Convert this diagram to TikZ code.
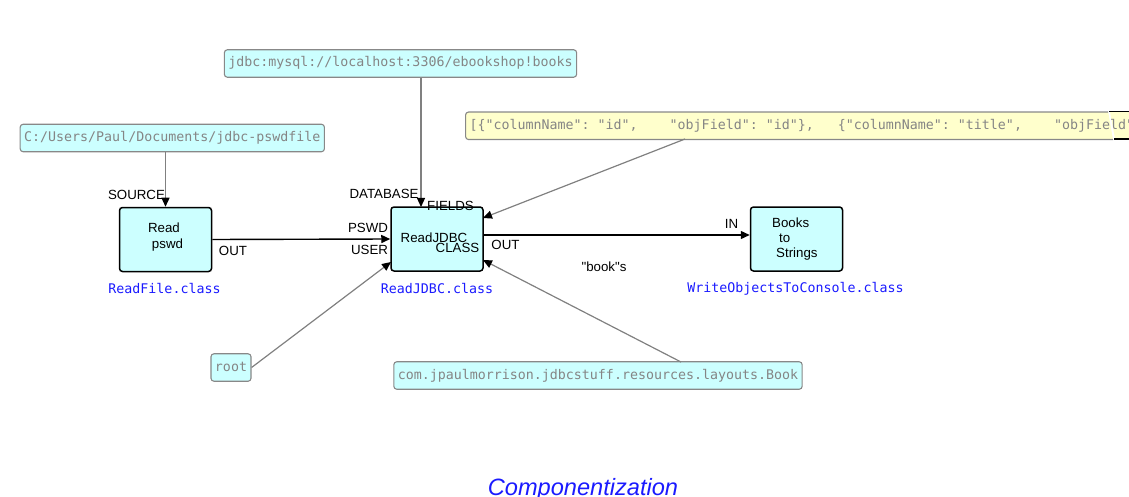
\documentclass[tikz,border=0pt]{standalone}
\usepackage{fontspec}
\setmainfont{Liberation Sans}[Ligatures=TeXOff]
\newfontfamily\monofont{DejaVu Sans Mono}
\usetikzlibrary{arrows.meta}

\definecolor{procfill}{HTML}{CCFFFF}
\definecolor{iipfill}{HTML}{CCFFFF}
\definecolor{fieldfill}{HTML}{FFFFCC}
\definecolor{iipborder}{HTML}{888888}
\definecolor{wire}{HTML}{808080}
\definecolor{monogray}{HTML}{858585}
\definecolor{classblue}{HTML}{1A1AFF}

\tikzset{
  proc/.style={draw=black, line width=1.5pt, fill=procfill, rounded corners=3pt,
    minimum width=92pt, minimum height=64pt, inner sep=0pt},
  iip/.style={draw=iipborder, line width=1.1pt, fill=iipfill, rounded corners=3pt,
    inner xsep=4pt, inner ysep=0pt, minimum height=27.5pt, text height=10pt,
    text depth=3pt, font=\monofont\fontsize{13.3}{16}\selectfont, text=monogray},
  lbl/.style={font=\fontsize{13.3}{16}\selectfont, inner sep=0pt, anchor=base},
  cls/.style={font=\monofont\fontsize{13.3}{16}\selectfont, text=classblue,
    inner sep=0pt, anchor=base},
  wireline/.style={draw=wire, line width=1.2pt,
    -{Triangle[length=9pt,width=8pt,color=black]}},
  flow/.style={draw=black, line width=1.4pt, -{Triangle[length=9pt,width=8pt]}},
}

\begin{document}
\begin{tikzpicture}[x=1pt,y=-1pt]
\useasboundingbox (0,0) rectangle (1129,497);
\clip (0,0) rectangle (1129,497);

% process blocks
\node[proc] (rp) at (165.5,239.5) {};
\node[proc] (rj) at (437,239) {};
\node[proc] (bs) at (796.5,239) {};

% initial information packets
\node[iip] (jdbc) at (400.5,63.5) {jdbc:mysql://localhost:3306/ebookshop!books};
\node[iip] (cpath) at (172.3,138) {C:/Users/Paul/Documents/jdbc-pswdfile};
\node[iip] (root) at (231,367.5) {root};
\node[iip] (com) at (598,375.5) {com.jpaulmorrison.jdbcstuff.resources.layouts.Book};

% field list packet, running off the right edge
\begin{scope}
  \clip (460,100) -- (1106,100) -- (1114,145) -- (460,145) -- cycle;
  \node[iip, fill=fieldfill, anchor=north west, minimum width=700pt] (fields) at (465,111.5) {};
\end{scope}
\fill[fieldfill] (1110,112) -- (1129,112) -- (1129,138.5) -- (1115,138.5) -- cycle;
\draw[black, line width=1.2pt] (1109,111.5) -- (1129,111.5);
\draw[black, line width=1.2pt] (1114,139) -- (1129,139);
\node[iip, draw=none, fill=none, anchor=west] (fieldstext) at (fields.west)
  {[\{"columnName":\ "id",\ \ \ \ "objField":\ "id"\},\ \ \ \{"columnName":\ "title",\ \ \ \ "objField":\ "title"\}]};

% port positions on the blocks
\coordinate (rjdb) at (421,207);
\coordinate (rjfields) at (483,218);
\coordinate (rjuser) at (391,262);
\coordinate (rjclass) at (483,260);
\coordinate (rjout) at (483,235);
\coordinate (fieldsout) at (685,139);
\coordinate (comout) at (681,362);

% connections
\draw[wireline] (rp.north |- cpath.south) -- (rp.north);
\draw[wireline] (jdbc.south -| rjdb) -- (rjdb);
\draw[wireline] (fieldsout) -- (rjfields);
\draw[wireline] (root.east) -- (rjuser);
\draw[wireline] (comout) -- (rjclass);
\draw[flow] (rp.east) -- (rj.west);
\draw[flow] (rjout) -- (bs.west |- rjout);

% block texts
\node[lbl] (trd) at (164,233) {Read};
\node[lbl] (tpw) at (167.5,248) {pswd};
\node[lbl] (trj) at (434,242) {ReadJDBC};
\node[lbl, anchor=base west] (tb1) at (772,227) {Books};
\node[lbl, anchor=base west] (tb2) at (779,242) {to};
\node[lbl, anchor=base west] (tb3) at (776,257) {Strings};

% port labels
\node[lbl] (lsource) at (136.5,200) {SOURCE};
\node[lbl] (lout1) at (233,255) {OUT};
\node[lbl] (ldb) at (384,199) {DATABASE};
\node[lbl] (lfields) at (450.5,211) {FIELDS};
\node[lbl] (lpswd) at (368,232) {PSWD};
\node[lbl] (luser) at (369.5,254) {USER};
\node[lbl] (lclass) at (457.5,252) {CLASS};
\node[lbl] (lout2) at (505.5,249) {OUT};
\node[lbl] (lin) at (731.5,228) {IN};
\node[lbl] (lbook) at (604,271.5) {"book"s};

% component class names
\node[cls] (crp) at (164.5,293) {ReadFile.class};
\node[cls] (crj) at (437,293) {ReadJDBC.class};
\node[cls] (cbs) at (795.5,292.5) {WriteObjectsToConsole.class};

% title
\node[inner sep=0pt, anchor=base, text=classblue,
  font=\itshape\fontsize{23.6}{28}\selectfont] (title) at (583,495) {Componentization};
\end{tikzpicture}
\end{document}
